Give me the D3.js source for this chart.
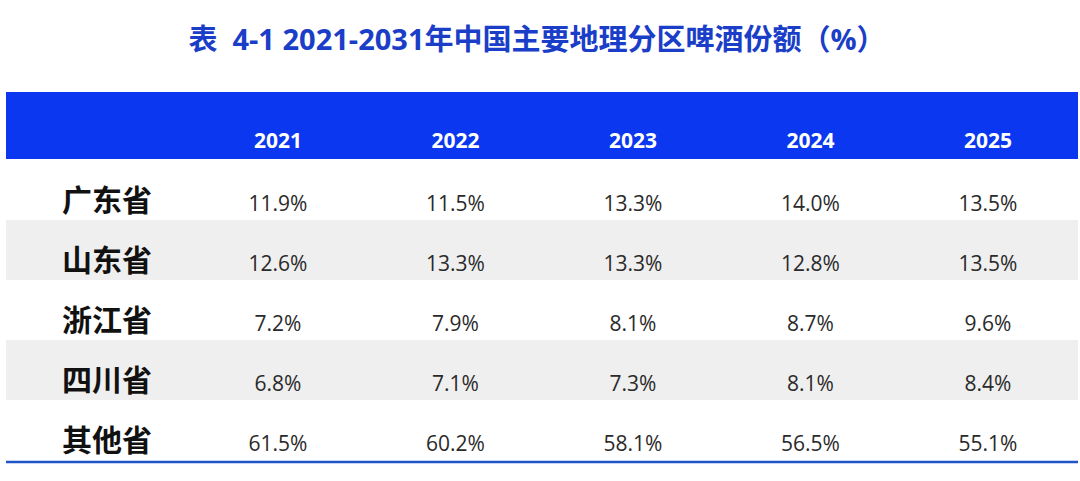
<!DOCTYPE html>
<html><head><meta charset="utf-8">
<script src="https://cdn.jsdelivr.net/npm/d3@7"></script>
<style>html,body{margin:0;padding:0;background:#fff;}svg{display:block;}</style>
</head><body>
<svg id="c" width="1080" height="481"></svg>
<script>
const title = "表\u00a0\u00a04-1 2021-2031年中国主要地理分区啤酒份额（%）";
const years = ["2021","2022","2023","2024","2025"];
const regions = ["广东省","山东省","浙江省","四川省","其他省"];
const guangdong = [11.9,11.5,13.3,14.0,13.5];
const shandong = [12.6,13.3,13.3,12.8,13.5];
const zhejiang = [7.2,7.9,8.1,8.7,9.6];
const sichuan = [6.8,7.1,7.3,8.1,8.4];
const others = [61.5,60.2,58.1,56.5,55.1];
const values = [guangdong, shandong, zhejiang, sichuan, others];

const svg = d3.select("#c");
const left = 6, right = 1078;
const x = d3.scalePoint().domain(years).range([278, 988]);
const y = d3.scaleBand().domain(regions).range([160, 460]).paddingInner(0).paddingOuter(0);

const t = svg.append("text").attr("x", 537).attr("y", 50).attr("text-anchor","middle")
  .attr("font-family","'Open Sans', 'Noto Sans CJK SC', sans-serif").attr("font-weight","bold")
  .attr("font-size", 29).attr("fill","#1a3ec8").text(title);
const tl = t.node().getComputedTextLength();
if (Math.abs(tl - 697) > 4) t.attr("textLength", 697).attr("lengthAdjust","spacingAndGlyphs");

svg.append("rect").attr("x", left).attr("y", 92).attr("width", right-left).attr("height", 67).attr("fill","#0a37ef");

svg.selectAll(".yr").data(years).join("text")
  .attr("x", d => x(d)).attr("y", 148).attr("text-anchor","middle")
  .attr("font-family","'Open Sans', sans-serif").attr("font-weight","bold").attr("font-size", 21)
  .attr("fill","#fff").text(d => d);

svg.selectAll(".band").data(regions.filter((d,i)=>i%2===1)).join("rect")
  .attr("x", left).attr("y", d => y(d)).attr("width", right-left).attr("height", y.bandwidth())
  .attr("fill","#efefef");

const rowG = svg.selectAll(".row").data(regions).join("g");
rowG.append("text").attr("x", 62).attr("y", d => y(d) + 51)
  .attr("font-family","'Noto Sans CJK SC', sans-serif").attr("font-weight","bold").attr("font-size", 30)
  .attr("fill","#111").text(d => d);
rowG.each(function(r, i){
  d3.select(this).selectAll(".v").data(values[i]).join("text")
    .attr("x", (d,j) => x(years[j])).attr("y", y(r) + 51)
    .attr("text-anchor","middle").attr("font-family","'Open Sans', sans-serif").attr("font-size", 21)
    .attr("fill","#2a2a2a").text(d => d.toFixed(1) + "%");
});

svg.append("line").attr("x1", left).attr("x2", right).attr("y1", 462).attr("y2", 462)
  .attr("stroke","#1f55c6").attr("stroke-width", 2.5);
</script>
</body></html>
